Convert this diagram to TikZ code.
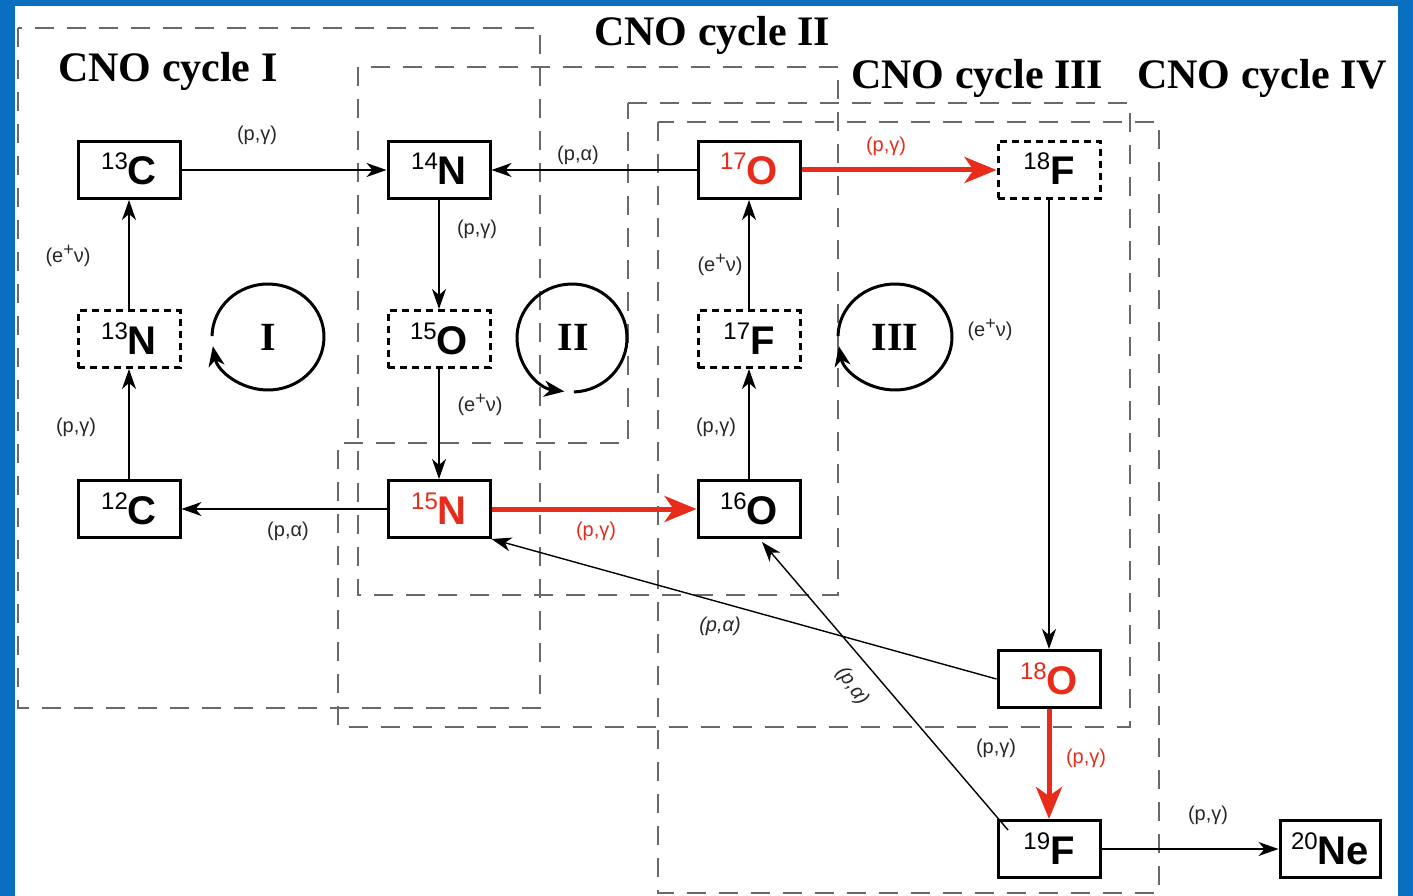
\documentclass[tikz,border=0pt]{standalone}
\usepackage{fontspec}
\setmainfont{Liberation Serif}
\setsansfont{Liberation Sans}
\usetikzlibrary{arrows.meta}
\definecolor{frameblue}{RGB}{8,112,190}
\definecolor{cnored}{RGB}{232,44,28}
\definecolor{boxgray}{RGB}{105,105,105}
\definecolor{labgray}{RGB}{40,40,40}
\newcommand{\nuc}[2]{{\fontsize{24}{24}\selectfont\raisebox{15pt}{#1}}{\fontsize{40}{40}\selectfont\bfseries #2}}
\newcommand{\epnu}{(e\raisebox{7pt}{\fontsize{18}{18}\selectfont +}ν)}
\begin{document}
\begin{tikzpicture}[x=1pt,y=-1pt,
  nucbox/.style={draw, line width=3pt, fill=white, minimum width=102pt, minimum height=57pt, inner sep=0pt, text height=30pt, text depth=0pt, font=\sffamily},
  nucdash/.style={nucbox, dash pattern=on 7pt off 5pt},
  conn/.style={line width=1.4pt, -{Stealth[length=20pt,width=14pt,inset=6pt]}},
  redconn/.style={line width=5pt, draw=cnored, -{Stealth[length=32pt,width=26pt,inset=9pt]}},
  cyclebox/.style={draw=boxgray, line width=1.8pt, dash pattern=on 19pt off 13pt},
  rlab/.style={font=\sffamily\fontsize{20}{20}\selectfont, text=labgray, inner sep=0pt},
  redlab/.style={rlab, text=cnored},
  itlab/.style={rlab, font=\sffamily\itshape\fontsize{20}{20}\selectfont},
  title/.style={font=\bfseries\fontsize{42}{42}\selectfont, anchor=base west, inner sep=0pt},
  roman/.style={font=\bfseries\fontsize{40}{40}\selectfont, inner sep=0pt},
  cyc/.style={line width=3pt, -{Stealth[length=20pt,width=16pt,inset=6pt]}}
]
\useasboundingbox (0,0) rectangle (1413,896);
\fill[frameblue] (0,0) rectangle (1413,896);
\fill[white] (15,6) rectangle (1398,896);

% cycle regions
\draw[cyclebox] (18,28) rectangle (540,708);
\draw[cyclebox] (358,67) rectangle (838,595);
\draw[cyclebox] (628,103) -- (1130,103) -- (1130,727) -- (338,727) -- (338,443) -- (628,443) -- cycle;
\draw[cyclebox] (658,122) rectangle (1159,893);

% titles
\node[title] (t1) at (58,82) {CNO cycle I};
\node[title] (t2) at (594,46) {CNO cycle II};
\node[title] (t3) at (851,89) {CNO cycle III};
\node[title] (t4) at (1137,89) {CNO cycle IV};

% nuclei
\node[nucbox] (c13) at (129,170) {\nuc{13}{C}};
\node[nucbox] (n14) at (439,170) {\nuc{14}{N}};
\node[nucbox, text=cnored] (o17) at (749,170) {\nuc{17}{O}};
\node[nucdash] (f18) at (1049,170) {\nuc{18}{F}};
\node[nucdash] (n13) at (129,339) {\nuc{13}{N}};
\node[nucdash] (o15) at (439,339) {\nuc{15}{O}};
\node[nucdash] (f17) at (749,339) {\nuc{17}{F}};
\node[nucbox] (c12) at (129,509) {\nuc{12}{C}};
\node[nucbox, text=cnored] (n15) at (439,509) {\nuc{15}{N}};
\node[nucbox] (o16) at (749,509) {\nuc{16}{O}};
\node[nucbox, text=cnored] (o18) at (1049,679) {\nuc{18}{O}};
\node[nucbox] (f19) at (1049,849) {\nuc{19}{F}};
\node[nucbox, minimum width=100pt] (ne20) at (1330,849) {\nuc{20}{Ne}};

% connectors
\draw[conn] (c13) -- (n14);
\draw[conn] (o17) -- (n14);
\draw[redconn] (o17) -- (f18);
\draw[conn] (n14) -- (o15);
\draw[conn] (o15) -- (n15);
\draw[conn] (n13) -- (c13);
\draw[conn] (c12) -- (n13);
\draw[conn] (n15) -- (c12);
\draw[redconn] (n15) -- (o16);
\draw[conn] (o16) -- (f17);
\draw[conn] (f17) -- (o17);
\draw[conn] (f18) -- (o18);
\draw[conn] (o18.west) -- (n15.south east);
\coordinate (f19s) at (1008,830);
\draw[conn] (f19s) -- ([xshift=13pt,yshift=-3pt]o16.south);
\draw[redconn] (o18) -- (f19);
\draw[conn] (f19) -- (ne20);

% cycle circles
\draw[cyc] (268,337) ++(181:56 and 53) arc[start angle=181, end angle=530, x radius=56, y radius=53];
\draw[cyc] (572,338) ++(88:55 and 54) arc[start angle=88, end angle=-262, x radius=55, y radius=54];
\draw[cyc] (895,337) ++(181:57 and 53) arc[start angle=181, end angle=530, x radius=57, y radius=53];
\node[roman] (r1) at (268,337) {I};
\node[roman] (r2) at (573,337) {II};
\node[roman] (r3) at (895,337) {III};

% reaction labels
\node[rlab] (l1) at (257,135) {(p,γ)};
\node[rlab] (l2) at (578,155) {(p,α)};
\node[redlab] (l3) at (886,146) {(p,γ)};
\node[rlab] (l4) at (477,229) {(p,γ)};
\node[rlab] (l5) at (68,256) {\epnu};
\node[rlab] (l6) at (720,265) {\epnu};
\node[rlab] (l7) at (990,330) {\epnu};
\node[rlab] (l8) at (480,405) {\epnu};
\node[rlab] (l9) at (76,427) {(p,γ)};
\node[rlab] (l10) at (716,427) {(p,γ)};
\node[rlab] (l11) at (288,531) {(p,α)};
\node[redlab] (l12) at (596,531) {(p,γ)};
\node[itlab] (l13) at (720,626) {(p,α)};
\node[itlab, rotate=-55] (l14) at (852,686) {(p,α)};
\node[rlab] (l15) at (996,748) {(p,γ)};
\node[redlab] (l16) at (1086,758) {(p,γ)};
\node[rlab] (l17) at (1208,815) {(p,γ)};
\end{tikzpicture}
\end{document}
